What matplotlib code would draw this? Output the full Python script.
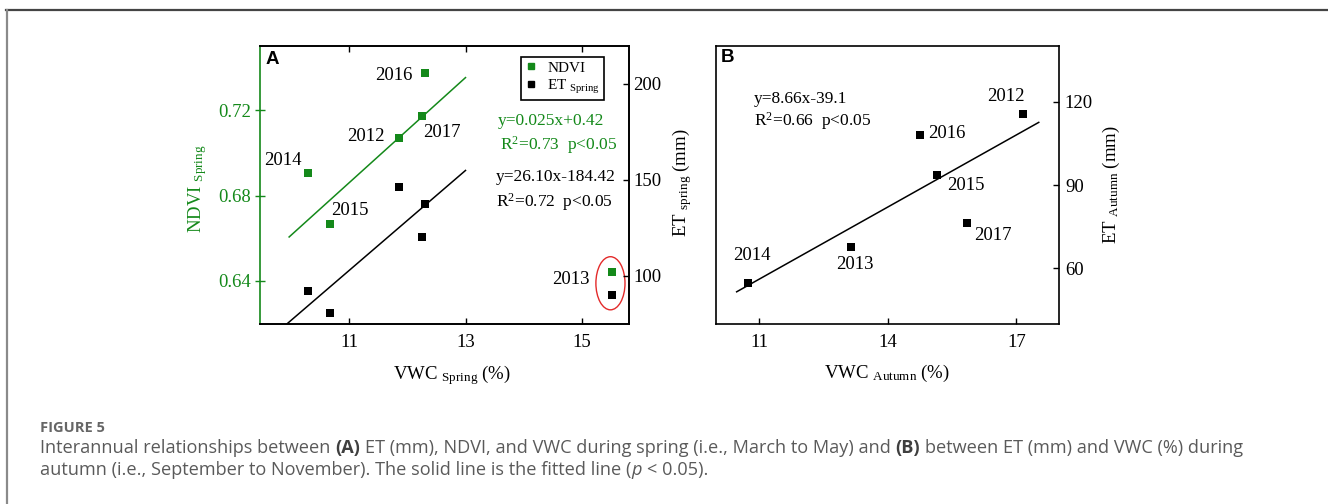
"""Figure 5: interannual relationships between ET, NDVI and VWC."""
import numpy as np
import matplotlib
matplotlib.use("Agg")
import matplotlib.pyplot as plt
from matplotlib.patches import Ellipse
from matplotlib.lines import Line2D
from matplotlib.transforms import IdentityTransform


# panel A (spring)
years_a = ["2014", "2015", "2012", "2017", "2016", "2013"]
vwc_spring = [10.30, 10.67, 11.865, 12.25, 12.31, 15.51]
ndvi_spring = [0.6905, 0.6667, 0.7072, 0.7175, 0.7376, 0.6441]
et_spring = [92.2, 80.4, 146.2, 120.3, 137.5, 90.0]

# fitted lines as drawn (end points)
ndvi_fit_x = [9.97, 13.0]
ndvi_fit_y = [0.6606, 0.7353]
et_fit_x = [9.93, 13.0]
et_fit_y = [74.8, 154.9]

# panel B (autumn)
years_b = ["2014", "2013", "2016", "2015", "2017", "2012"]
vwc_autumn = [10.74, 13.14, 14.75, 15.15, 15.84, 17.15]
et_autumn = [54.8, 67.8, 108.0, 93.7, 76.2, 115.5]
et_autumn_fit_x = [10.48, 17.52]
et_autumn_fit_y = [51.6, 112.6]

ndvi_ticks = [0.64, 0.68, 0.72]
et_spring_ticks = [100, 150, 200]
vwc_spring_ticks = [11, 13, 15]
vwc_autumn_ticks = [11, 14, 17]
et_autumn_ticks = [60, 90, 120]


plt.rcParams["font.family"] = ["Liberation Serif", "DejaVu Serif"]
plt.rcParams["mathtext.fontset"] = "custom"
plt.rcParams["mathtext.rm"] = "Liberation Serif"
plt.rcParams["mathtext.it"] = "Liberation Serif:italic"
plt.rcParams["mathtext.bf"] = "Liberation Serif:bold"

GREEN = "#14891a"
CAP = "#5a5a5a"
TICK_FS = 13.5
YEAR_FS = 13.5
EQ_FS = 12.5
LABEL_FS = 13.5
MS = 30

fig = plt.figure(figsize=(13.28, 5.04), dpi=100)

# ---------------- panel A ----------------
ax_a = fig.add_axes([0.1958, 0.3571, 0.2779, 0.5516])
ax_a2 = ax_a.twinx()

ax_a.set_xlim(9.47, 15.81)
ax_a.set_ylim(0.6198, 0.7501)
ax_a2.set_ylim(74.8, 219.8)

ax_a.scatter(vwc_spring, ndvi_spring, marker="s", s=MS, color=GREEN,
             linewidths=0, zorder=3)
ax_a.plot(ndvi_fit_x, ndvi_fit_y, color=GREEN, lw=1.1)
ax_a2.scatter(vwc_spring, et_spring, marker="s", s=MS, color="black",
              linewidths=0, zorder=3)
ax_a2.plot(et_fit_x, et_fit_y, color="black", lw=1.1)

# red ellipse around 2013
ax_a.add_patch(Ellipse((15.49, 0.6389), 0.50, 0.0249, fill=False,
                       edgecolor="#e32a2a", lw=1.0, zorder=4))

# year labels (offset in pixels from the green point)
offsets_a = [(-25, 13), (20, 13), (-34, 1), (20, -17), (-32, -3), (-41, -7)]
for yr, x, y, off in zip(years_a, vwc_spring, ndvi_spring, offsets_a):
    ax_a.annotate(yr, (x, y), xytext=off, textcoords="offset pixels",
                  ha="center", va="center", fontsize=YEAR_FS)

ax_a.set_xticks(vwc_spring_ticks)
ax_a.set_yticks(ndvi_ticks)
ax_a.set_yticklabels(["%.2f" % t for t in ndvi_ticks])
ax_a2.set_yticks(et_spring_ticks)
ax_a.tick_params(axis="x", direction="in", top=True, length=4, width=1,
                 labelsize=TICK_FS, pad=7)
ax_a.tick_params(axis="y", direction="inout", length=7, width=1,
                 colors=GREEN, labelsize=TICK_FS, pad=3)
ax_a2.tick_params(axis="y", direction="in", length=4, width=1,
                  labelsize=TICK_FS, pad=3)

for sp in ax_a.spines.values():
    sp.set_linewidth(1.2)
for sp in ax_a2.spines.values():
    sp.set_linewidth(1.2)
ax_a.spines["left"].set_color(GREEN)
ax_a2.spines["left"].set_visible(False)

ax_a.text(-0.168, 0.486, r"NDVI $_{\rm Spring}$", transform=ax_a.transAxes,
          rotation=90, ha="center", va="center", color=GREEN,
          fontsize=LABEL_FS)
ax_a.text(1.144, 0.509, r"ET $_{\rm spring}$ (mm)", transform=ax_a.transAxes,
          rotation=90, ha="center", va="center", fontsize=LABEL_FS)
ax_a.text(0.52, -0.183, r"VWC $_{\rm Spring}$ (%)", transform=ax_a.transAxes,
          ha="center", va="center", fontsize=LABEL_FS)

ax_a.text(0.645, 0.730, "y=0.025x+0.42", transform=ax_a.transAxes,
          color=GREEN, fontsize=EQ_FS, va="center")
ax_a.text(0.650, 0.644, r"R$^2$=0.73  p<0.05", transform=ax_a.transAxes,
          color=GREEN, fontsize=EQ_FS, va="center")
ax_a.text(0.640, 0.529, "y=26.10x-184.42", transform=ax_a.transAxes,
          fontsize=EQ_FS, va="center")
ax_a.text(0.640, 0.439, r"R$^2$=0.72  p<0.05", transform=ax_a.transAxes,
          fontsize=EQ_FS, va="center")
ax_a.text(0.016, 0.953, "A", transform=ax_a.transAxes, fontsize=13.5,
          fontweight="bold", family="Liberation Sans", va="center")

handles = [Line2D([], [], ls="none", marker="s", ms=5, color=GREEN),
           Line2D([], [], ls="none", marker="s", ms=5, color="black")]
leg = ax_a2.legend(handles, ["NDVI", r"ET $_{\rm Spring}$"],
                   loc="upper right", bbox_to_anchor=(0.932, 0.960),
                   fontsize=11, frameon=True, fancybox=False,
                   edgecolor="black", framealpha=1, borderpad=0.25,
                   handletextpad=0.7, handlelength=0.8, labelspacing=0.2,
                   borderaxespad=0)
leg.get_frame().set_linewidth(1.2)

# ---------------- panel B ----------------
ax_b = fig.add_axes([0.5392, 0.3571, 0.2585, 0.5522])
ax_b.set_xlim(10.0, 18.0)
ax_b.set_ylim(40.0, 140.2)
ax_b.scatter(vwc_autumn, et_autumn, marker="s", s=MS, color="black",
             linewidths=0, zorder=3)
ax_b.plot(et_autumn_fit_x, et_autumn_fit_y, color="black", lw=1.1)

offsets_b = [(4, 27), (4, -18), (27, 2), (29, -11), (26, -12), (-17, 18)]
for yr, x, y, off in zip(years_b, vwc_autumn, et_autumn, offsets_b):
    ax_b.annotate(yr, (x, y), xytext=off, textcoords="offset pixels",
                  ha="center", va="center", fontsize=YEAR_FS)

ax_b.set_xticks(vwc_autumn_ticks)
ax_b.yaxis.tick_right()
ax_b.set_yticks(et_autumn_ticks)
ax_b.tick_params(axis="x", direction="in", length=4, width=1,
                 labelsize=TICK_FS, pad=7)
ax_b.tick_params(axis="y", direction="in", length=4, width=1,
                 labelsize=TICK_FS, pad=4)
for sp in ax_b.spines.values():
    sp.set_linewidth(1.2)

ax_b.text(0.111, 0.807, "y=8.66x-39.1", transform=ax_b.transAxes,
          fontsize=EQ_FS, va="center")
ax_b.text(0.111, 0.729, r"R$^2$=0.66  p<0.05", transform=ax_b.transAxes,
          fontsize=EQ_FS, va="center")
ax_b.text(0.015, 0.956, "B", transform=ax_b.transAxes, fontsize=13.5,
          fontweight="bold", family="Liberation Sans", va="center")
ax_b.text(1.153, 0.5, r"ET $_{\rm Autumn}$ (mm)", transform=ax_b.transAxes,
          rotation=90, ha="center", va="center", fontsize=LABEL_FS)
ax_b.text(0.497, -0.177, r"VWC $_{\rm Autumn}$ (%)", transform=ax_b.transAxes,
          ha="center", va="center", fontsize=LABEL_FS)

# ---------------- frame and caption ----------------
H = 504.0
fig.add_artist(Line2D([6, 1328], [H - 9.8, H - 9.8], transform=IdentityTransform(),
                      color="#444444", lw=1.6))
fig.add_artist(Line2D([7, 7], [H - 9.8, 0], transform=IdentityTransform(),
                      color="#8a8a8a", lw=1.6))

renderer = fig.canvas.get_renderer()
CAP_FONT = "Open Sans"

line1 = [
    ("Interannual relationships between", "normal", "normal", False),
    ("(A)", "bold", "normal", True),
    ("ET (mm), NDVI, and VWC during spring (i.e., March to May) and",
     "normal", "normal", True),
    ("(B)", "bold", "normal", True),
    ("between ET (mm) and VWC (%) during", "normal", "normal", True),
]
line2 = [
    ("autumn (i.e., September to November). The solid line is the fitted line (",
     "normal", "normal", False),
    ("p", "normal", "italic", False),
    ("< 0.05).", "normal", "normal", True),
]


def text_width(s, size, weight="normal", style="normal"):
    t = fig.text(0, 0, s, transform=IdentityTransform(), family=CAP_FONT,
                 fontsize=size, fontweight=weight, fontstyle=style)
    w = t.get_window_extent(renderer).width
    t.remove()
    return w


def line_width(pieces, size):
    sp = text_width("a a", size) - text_width("aa", size)
    total = 0.0
    for s, weight, style, gap in pieces:
        total += text_width(s, size, weight, style) + (sp if gap else 0)
    return total


# caption set so that the first line spans the same width as the original
CAP_FS = 10.0 * 1207.0 / line_width(line1, 10.0)


def caption_line(pieces, x, y):
    sp = text_width("a a", CAP_FS) - text_width("aa", CAP_FS)
    for s, weight, style, gap in pieces:
        if gap:
            x += sp
        t = fig.text(x, H - y, s, transform=IdentityTransform(),
                     va="baseline", family=CAP_FONT, fontsize=CAP_FS,
                     fontweight=weight, fontstyle=style,
                     color="#3f3f3f" if weight == "bold" else CAP)
        x += t.get_window_extent(renderer).width


fig.text(40, H - 431.7, "FIGURE 5", transform=IdentityTransform(),
         family=CAP_FONT, fontsize=10.5, fontweight="bold", color="#666666",
         va="baseline")
caption_line(line1, 40, 453.3)
caption_line(line2, 40, 475.0)

fig.savefig("out.png", dpi=100)
